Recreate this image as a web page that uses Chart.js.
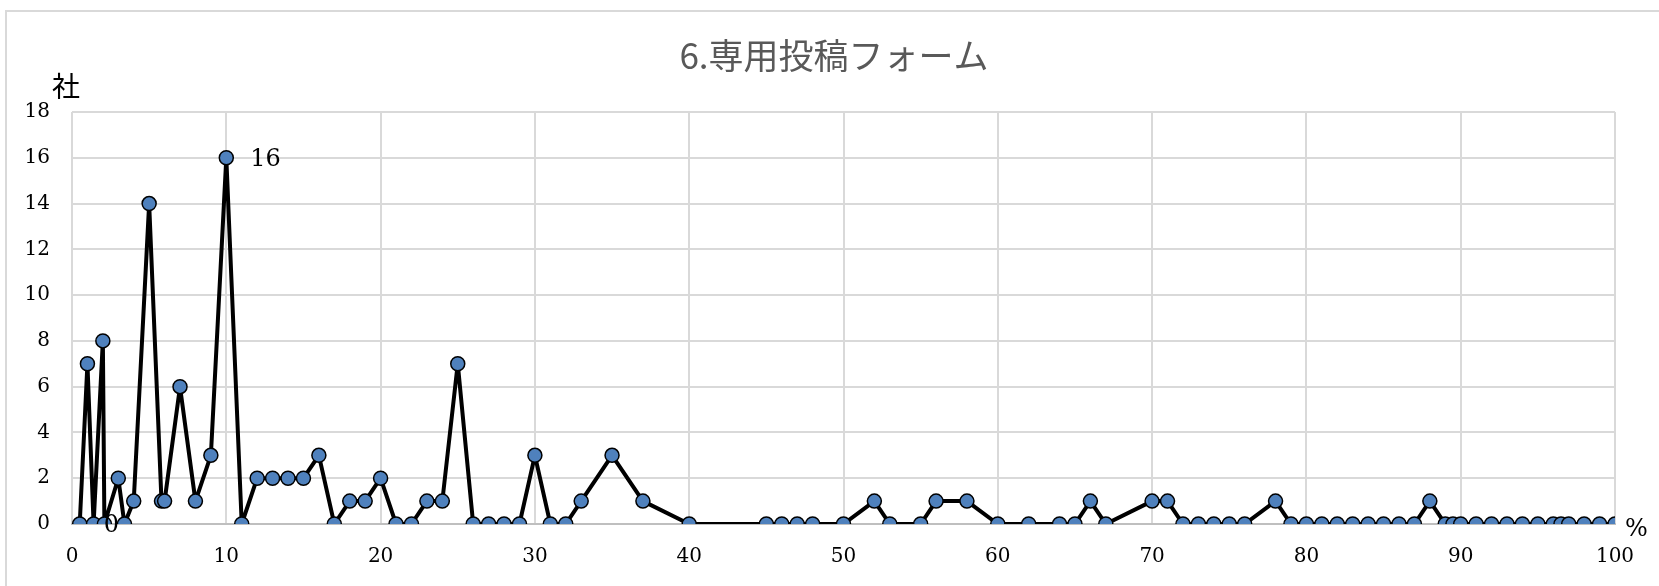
<!DOCTYPE html>
<html>
<head>
<meta charset="utf-8">
<script src="https://cdn.jsdelivr.net/npm/chart.js@4"></script>
<style>
  html, body { margin: 0; padding: 0; background: #ffffff; }
  #wrap { width: 1659px; height: 586px; position: relative; }
</style>
</head>
<body>
<div id="wrap"><canvas id="c" width="1659" height="586"></canvas></div>
<script>
// Share of posts (%) on the x axis, number of companies on the y axis
const titleText = '6.専用投稿フォーム';
const yUnit = '社';
const xUnit = '%';

const xValues = [
  0.5, 1, 1.4, 2, 2.1, 3, 3.4, 4, 5, 5.8, 6, 7, 8, 9, 10,
  11, 12, 13, 14, 15, 16, 17, 18, 19, 20, 21, 22, 23, 24, 25, 26, 27, 28, 29, 30, 31, 32, 33,
  35, 37, 40, 45, 46, 47, 48, 50, 52, 53, 55, 56, 58, 60, 62, 64, 65, 66, 67,
  70, 71, 72, 73, 74, 75, 76, 78, 79, 80, 81, 82, 83, 84, 85, 86, 87, 88,
  89, 89.5, 90, 91, 92, 93, 94, 95, 96, 96.5, 97, 98, 99, 100
];
const companyCounts = [
  0, 7, 0, 8, 0, 2, 0, 1, 14, 1, 1, 6, 1, 3, 16,
  0, 2, 2, 2, 2, 3, 0, 1, 1, 2, 0, 0, 1, 1, 7, 0, 0, 0, 0, 3, 0, 0, 1,
  3, 1, 0, 0, 0, 0, 0, 0, 1, 0, 0, 1, 1, 0, 0, 0, 0, 1, 0,
  1, 1, 0, 0, 0, 0, 0, 1, 0, 0, 0, 0, 0, 0, 0, 0, 0, 1,
  0, 0, 0, 0, 0, 0, 0, 0, 0, 0, 0, 0, 0, 0
];
// Points whose value is written beside the marker
const labelledPoints = [0, 14];

const xTicks = [0, 10, 20, 30, 40, 50, 60, 70, 80, 90, 100];
const yTicks = [0, 2, 4, 6, 8, 10, 12, 14, 16, 18];

const points = xValues.map((x, i) => ({ x: x, y: companyCounts[i] }));

const SERIF = '"DejaVu Serif", "Liberation Serif", serif';
const CJK = '"Noto Sans CJK JP", "Noto Sans", sans-serif';

const decorations = {
  id: 'decorations',
  beforeDraw(chart) {
    const ctx = chart.ctx;
    ctx.save();
    ctx.fillStyle = '#ffffff';
    ctx.fillRect(0, 0, chart.width, chart.height);
    ctx.strokeStyle = '#d9d9d9';
    ctx.lineWidth = 2;
    ctx.strokeRect(6, 11, chart.width + 20, chart.height + 20);
    ctx.restore();
  },
  afterDraw(chart) {
    const ctx = chart.ctx;
    const xs = chart.scales.x, ys = chart.scales.y;
    ctx.save();
    // title
    ctx.fillStyle = '#595959';
    ctx.font = '35px ' + CJK;
    ctx.textAlign = 'center';
    ctx.textBaseline = 'middle';
    ctx.fillText(titleText, 834, 56);
    // axis units
    ctx.fillStyle = '#000000';
    ctx.font = '28px ' + CJK;
    ctx.fillText(yUnit, 66, 86);
    ctx.font = '24px ' + SERIF;
    ctx.textAlign = 'left';
    ctx.fillText(xUnit, xs.right + 10, ys.getPixelForValue(0) + 6);
    // value labels
    ctx.font = '24px ' + SERIF;
    ctx.textAlign = 'left';
    ctx.textBaseline = 'middle';
    const meta = chart.getDatasetMeta(0);
    labelledPoints.forEach(i => {
      const el = meta.data[i];
      ctx.fillText(String(companyCounts[i]), el.x + 24, el.y + 2);
    });
    ctx.restore();
  }
};

new Chart(document.getElementById('c'), {
  type: 'line',
  data: {
    datasets: [{
      data: points,
      borderColor: '#000000',
      borderWidth: 4,
      borderJoinStyle: 'round',
      borderCapStyle: 'round',
      pointRadius: 7,
      pointHoverRadius: 7,
      pointBackgroundColor: '#4f81bd',
      pointBorderColor: '#000000',
      pointBorderWidth: 1.5,
      tension: 0,
      fill: false
    }]
  },
  options: {
    responsive: false,
    animation: false,
    events: [],
    layout: { padding: { top: 112, right: 44, bottom: 0, left: 0 } },
    plugins: { legend: { display: false }, title: { display: false }, tooltip: { enabled: false } },
    scales: {
      x: {
        type: 'linear',
        min: 0, max: 100,
        afterFit(s) { s.height = 62; },
        afterBuildTicks(s) { s.ticks = xTicks.map(v => ({ value: v })); },
        grid: { color: '#d9d9d9', lineWidth: 2, drawTicks: false },
        border: { display: true, color: '#bfbfbf', width: 2 },
        ticks: { color: '#000000', font: { family: SERIF, size: 20 }, padding: 21, maxRotation: 0 }
      },
      y: {
        type: 'linear',
        min: 0, max: 18,
        afterFit(s) { s.width = 72; },
        afterBuildTicks(s) { s.ticks = yTicks.map(v => ({ value: v })); },
        grid: { color: '#d9d9d9', lineWidth: 2, drawTicks: false },
        border: { display: false },
        ticks: { color: '#000000', font: { family: SERIF, size: 20 }, padding: 22 }
      }
    }
  },
  plugins: [decorations]
});
</script>
</body>
</html>
